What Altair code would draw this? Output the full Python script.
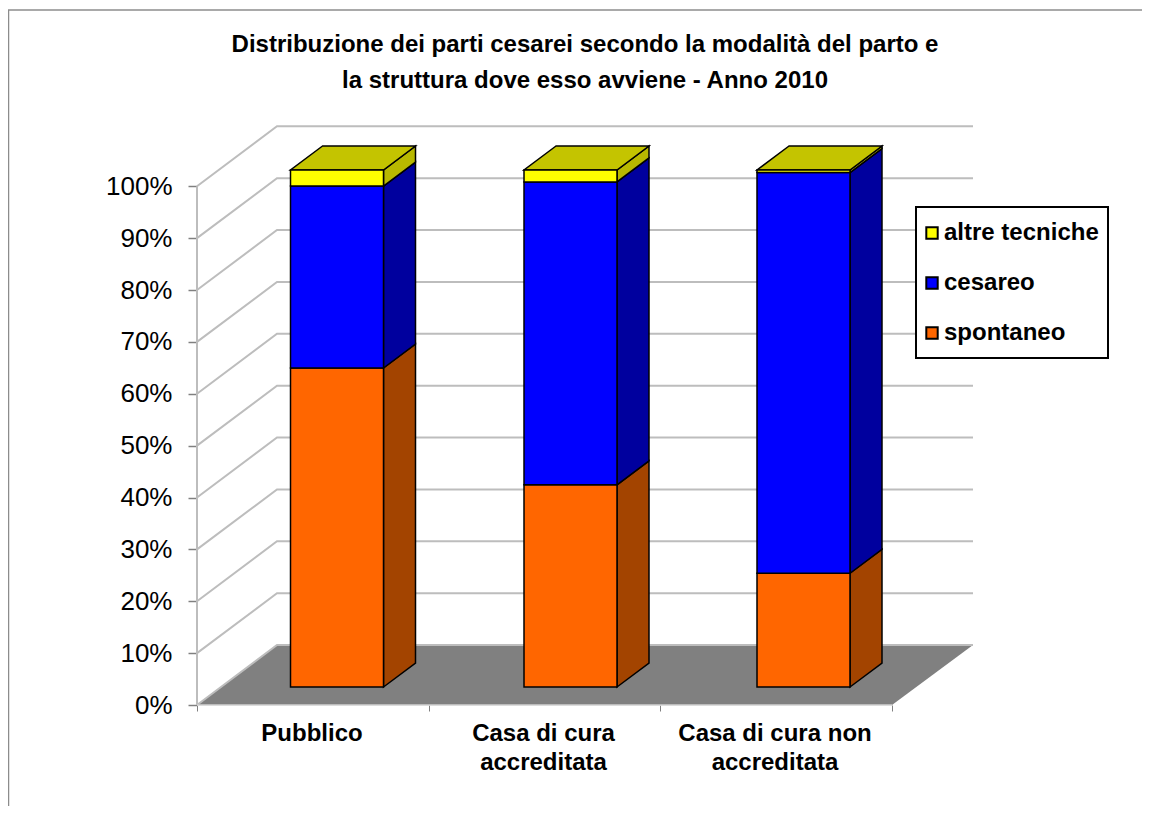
import altair as alt
import pandas as pd

categories = ["Pubblico", "Casa di cura\naccreditata", "Casa di cura non\naccreditata"]
series = ["altre tecniche", "cesareo", "spontaneo"]
spontaneo = [61.7, 39.1, 22.0]
cesareo = [35.2, 58.6, 77.5]
altre = [3.1, 2.3, 0.5]
ticks = list(range(0, 101, 10))
title_text = "Distribuzione dei parti cesarei secondo la modalità del parto e\nla struttura dove esso avviene - Anno 2010"

front_colors = ["#FFFF00", "#0000FF", "#FF6600"]
side_colors = ["#B8B800", "#00009E", "#A34400"]
top_color = "#C4C400"
grid_color = "#BDBDBD"

# Projection of the 3D chart box, in plot pixels (x) and axis percent (y)
PW, PH = 776, 578
PX = 5.187
WALL_DX, WALL_DY = 80, 60 / PX
AXIS_W = 695
BAR_LEFT = [93.5, 327, 560]
BAR_W = 93
BAR_DX, BAR_DY = 32, 24 / PX
BAR_BASE = 18 / PX
BAR_K = 0.9967
LABEL_X = [115, 346.5, 578]

xs = alt.Scale(domain=[0, PW], range=[0, PW], nice=False, zero=False)
ys = alt.Scale(domain=[0, PH / PX], range=[PH, 0], nice=False, zero=False)

fronts, sides, tops = [], [], []
for i, cat in enumerate(categories):
    left = BAR_LEFT[i]
    right = left + BAR_W
    base = 0.0
    for name, values in (("spontaneo", spontaneo), ("cesareo", cesareo), ("altre tecniche", altre)):
        lo = BAR_BASE + base * BAR_K
        base += values[i]
        hi = BAR_BASE + base * BAR_K
        fronts.append(dict(cat=cat, serie=name, x=left, x2=right, y=lo, y2=hi))
        key = f"{i}-{name}"
        sides.append(dict(key=key, serie=name, x=right, y=lo, y2=hi))
        sides.append(dict(key=key, serie=name, x=right + BAR_DX, y=lo + BAR_DY, y2=hi + BAR_DY))
    tops.append(dict(key=str(i), x=left, x2=right, y=hi))
    tops.append(dict(key=str(i), x=left + BAR_DX, x2=right + BAR_DX, y=hi + BAR_DY))

floor = pd.DataFrame([
    dict(x=0, x2=AXIS_W, y=0),
    dict(x=WALL_DX, x2=PW, y=WALL_DY),
])
grid = pd.DataFrame([
    row for t in ticks for row in (
        dict(t=t, x=0, y=t),
        dict(t=t, x=WALL_DX, y=t + WALL_DY),
        dict(t=t, x=PW, y=t + WALL_DY),
    )
])

x_axis = alt.Axis(
    values=[0, AXIS_W / 3, 2 * AXIS_W / 3, AXIS_W], labels=False, title=None, grid=False,
    domain=False, tickColor="#808080", tickSize=6, tickWidth=1)
y_axis = alt.Axis(
    values=ticks, labelExpr="datum.value + '%'", title=None, grid=False, domain=False,
    tickColor="#808080", tickSize=9, tickWidth=1.5, labelFont="Liberation Sans",
    labelFontSize=26, labelColor="#000000", labelPadding=16)

floor_layer = alt.Chart(floor).mark_area(orient="horizontal", color="#808080").encode(
    y=alt.Y("y:Q", scale=ys, axis=y_axis),
    x=alt.X("x:Q", scale=xs, axis=x_axis),
    x2="x2:Q",
)
grid_layer = alt.Chart(grid).mark_line(color=grid_color, strokeWidth=2).encode(
    x=alt.X("x:Q", scale=xs),
    y=alt.Y("y:Q", scale=ys),
    detail="t:N",
)
wall_layer = alt.Chart(pd.DataFrame({"y": [0], "y2": [100]})).mark_rule(color=grid_color, strokeWidth=2).encode(
    x=alt.value(0), y=alt.Y("y:Q", scale=ys), y2="y2:Q",
)
base_layer = alt.Chart(pd.DataFrame({"x": [0], "x2": [AXIS_W], "y": [0]})).mark_rule(color="#D0D0D0", strokeWidth=1.5).encode(
    x=alt.X("x:Q", scale=xs), x2="x2:Q", y=alt.Y("y:Q", scale=ys),
)
side_layer = alt.Chart(pd.DataFrame(sides)).mark_area(stroke="#000000", strokeWidth=1.5).encode(
    x=alt.X("x:Q", scale=xs),
    y=alt.Y("y:Q", scale=ys),
    y2="y2:Q",
    detail="key:N",
    fill=alt.Fill("serie:N", scale=alt.Scale(domain=series, range=side_colors), legend=None),
)
top_layer = alt.Chart(pd.DataFrame(tops)).mark_area(
    orient="horizontal", color=top_color, stroke="#000000", strokeWidth=1.5
).encode(
    y=alt.Y("y:Q", scale=ys),
    x=alt.X("x:Q", scale=xs),
    x2="x2:Q",
    detail="key:N",
)
front_layer = alt.Chart(pd.DataFrame(fronts)).mark_bar(stroke="#000000", strokeWidth=1.5).encode(
    x=alt.X("x:Q", scale=xs),
    x2="x2:Q",
    y=alt.Y("y:Q", scale=ys),
    y2="y2:Q",
    color=alt.Color("serie:N", scale=alt.Scale(domain=series, range=front_colors), legend=alt.Legend(
        orient="none", legendX=713, legendY=84, title=None,
        padding=10, symbolType="square", symbolSize=130,
        symbolStrokeColor="#000000", symbolStrokeWidth=2, labelFont="Liberation Sans",
        labelFontWeight="bold", labelFontSize=24, labelColor="#000000", rowPadding=26,
        labelOffset=0, labelLimit=300)),
)
legend_box = alt.Chart(pd.DataFrame({"a": [0]})).mark_rect(fill="#FFFFFF", stroke="#000000", strokeWidth=2).encode(
    x=alt.value(719), x2=alt.value(911), y=alt.value(80), y2=alt.value(231),
)
label_layer = alt.Chart(pd.DataFrame({"x": LABEL_X, "label": categories})).mark_text(
    font="Liberation Sans", fontWeight="bold", fontSize=24, color="#000000",
    lineBreak="\n", lineHeight=29, baseline="top", align="center",
).encode(
    x=alt.X("x:Q", scale=xs),
    y=alt.value(PH + 17),
    text="label:N",
)
title_layer = alt.Chart(pd.DataFrame({"label": [title_text]})).mark_text(
    font="Liberation Sans", fontWeight="bold", fontSize=24, color="#000000",
    lineBreak="\n", lineHeight=36, baseline="top", align="center",
).encode(
    x=alt.value(PW / 2),
    y=alt.value(-94),
    text="label:N",
)
frame_top = alt.Chart(pd.DataFrame({"a": [0]})).mark_rule(color="#8C8C8C", strokeWidth=1.5).encode(
    x=alt.value(-189), x2=alt.value(PW + 169), y=alt.value(-117),
)
frame_left = alt.Chart(pd.DataFrame({"a": [0]})).mark_rule(color="#8C8C8C", strokeWidth=1.5).encode(
    x=alt.value(-188.5), y=alt.value(-117), y2=alt.value(PH + 101),
)

chart = alt.layer(
    floor_layer, frame_top, frame_left, grid_layer, wall_layer, base_layer,
    side_layer, top_layer, front_layer, legend_box, label_layer, title_layer,
).resolve_scale(fill="independent", color="independent").properties(
    width=PW, height=PH,
    padding={"left": 189, "top": 119, "right": 169, "bottom": 101},
    autosize=alt.AutoSizeParams(type="none"),
    background="#FFFFFF",
).configure_view(stroke=None)

chart.save("out.html", embed_options={"renderer": "svg", "actions": False})
